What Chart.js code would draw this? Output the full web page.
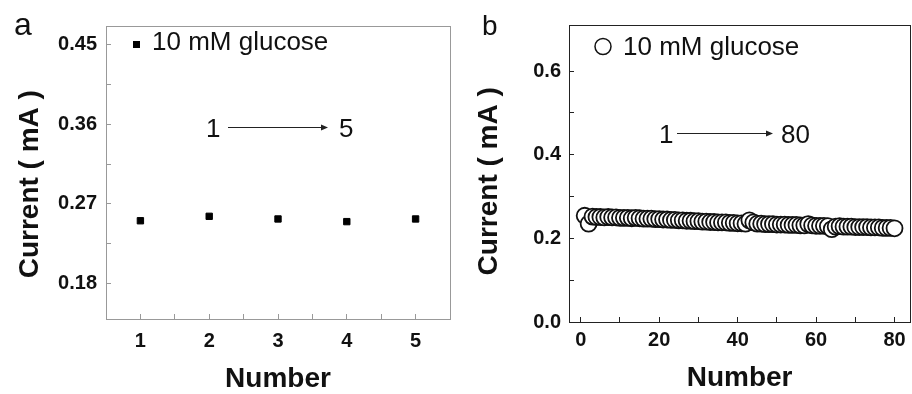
<!DOCTYPE html>
<html>
<head>
<meta charset="utf-8">
<script src="https://cdn.jsdelivr.net/npm/chart.js@4/dist/chart.umd.min.js"></script>
<style>
html, body { margin: 0; padding: 0; background: #fff; overflow: hidden; width: 912px; height: 394px; }
#chartA { position: absolute; left: 0; top: 0; }
#chartB { position: absolute; left: 460px; top: 0; }
</style>
</head>
<body>
<canvas id="chartA" width="460" height="394"></canvas>
<canvas id="chartB" width="460" height="394"></canvas>
<script>
// 面板a：5次测量
const numbersA = [1, 2, 3, 4, 5];
const currentA = [0.251, 0.256, 0.253, 0.250, 0.253];
const xMajorA = [1, 2, 3, 4, 5];
const xMinorA = [1.5, 2.5, 3.5, 4.5];
const yMajorA = [0.18, 0.27, 0.36, 0.45];
const yMinorA = [0.225, 0.315, 0.405];

// 面板b：80次测量
const numbersB = Array.from({ length: 80 }, (_, i) => i + 1);
const currentB = [
    0.254, 0.235, 0.252, 0.251, 0.251, 0.250, 0.251, 0.250, 0.250, 0.249,
    0.249, 0.249, 0.248, 0.249, 0.248, 0.247, 0.247, 0.247, 0.246, 0.246,
    0.245, 0.245, 0.244, 0.244, 0.243, 0.243, 0.242, 0.242, 0.241, 0.241,
    0.240, 0.240, 0.239, 0.239, 0.238, 0.238, 0.238, 0.237, 0.237, 0.236,
    0.236, 0.235, 0.243, 0.238, 0.235, 0.235, 0.234, 0.234, 0.234, 0.233,
    0.233, 0.233, 0.232, 0.232, 0.232, 0.231, 0.231, 0.234, 0.231, 0.230,
    0.230, 0.230, 0.229, 0.222, 0.228, 0.229, 0.228, 0.228, 0.228, 0.227,
    0.227, 0.227, 0.227, 0.226, 0.226, 0.226, 0.225, 0.225, 0.225, 0.224
];
const xMajorB = [0, 20, 40, 60, 80];
const xMinorB = [10, 30, 50, 70];
const yMajorB = [0, 0.2, 0.4, 0.6];
const yMinorB = [0.1, 0.3, 0.5];

const FONT = '"Liberation Sans", Arial, sans-serif';

function isMajor(list, v) {
    return list.some(m => Math.abs(m - v) < 1e-9);
}

function tickList(major, minor) {
    return major.concat(minor).sort((a, b) => a - b).map(v => ({ value: v }));
}

// 生成坐标轴配置
function makeAxis(opts) {
    return {
        type: 'linear',
        min: opts.min,
        max: opts.max,
        afterBuildTicks: s => { s.ticks = tickList(opts.major, opts.minor); },
        afterFit: s => {
            if (opts.width) s.width = opts.width;
            if (opts.height) s.height = opts.height;
        },
        grid: { drawOnChartArea: false, tickLength: -5, tickColor: opts.color, color: opts.color },
        border: { color: opts.color, width: 1 },
        ticks: {
            padding: opts.padding,
            color: '#111',
            autoSkip: false,
            maxRotation: 0,
            font: { family: FONT, size: 20, weight: 'bold' },
            callback: v => isMajor(opts.major, v) ? opts.fmt(v) : ''
        },
        title: {
            display: true,
            text: opts.title,
            color: '#111',
            font: { family: FONT, size: 28, weight: 'bold', lineHeight: opts.titleLH },
            padding: opts.titlePad
        }
    };
}

// 边框和注释
function annotPlugin(frameColor, drawExtra) {
    return {
        id: 'annot',
        afterDraw(chart) {
            const ctx = chart.ctx;
            const a = chart.chartArea;
            ctx.save();
            ctx.strokeStyle = frameColor;
            ctx.lineWidth = 1;
            ctx.strokeRect(Math.round(a.left) + 0.5, Math.round(a.top) + 0.5,
                Math.round(a.right - a.left), Math.round(a.bottom - a.top));
            drawExtra(ctx);
            ctx.restore();
        }
    };
}

function drawArrow(ctx, x1, x2, y) {
    ctx.strokeStyle = '#222';
    ctx.fillStyle = '#222';
    ctx.lineWidth = 1;
    ctx.beginPath();
    ctx.moveTo(x1, y + 0.5);
    ctx.lineTo(x2 - 5, y + 0.5);
    ctx.stroke();
    ctx.beginPath();
    ctx.moveTo(x2, y + 0.5);
    ctx.lineTo(x2 - 7, y - 2.5);
    ctx.lineTo(x2 - 7, y + 3.5);
    ctx.closePath();
    ctx.fill();
}

function text(ctx, s, x, y, size) {
    ctx.fillStyle = '#111';
    ctx.font = size + 'px ' + FONT;
    ctx.textAlign = 'left';
    ctx.textBaseline = 'alphabetic';
    ctx.fillText(s, x, y);
}

// 面板a
new Chart(document.getElementById('chartA'), {
    type: 'scatter',
    data: {
        datasets: [{
            label: '10 mM glucose',
            data: numbersA.map((n, i) => ({ x: n, y: currentA[i] })),
            pointStyle: 'rect',
            pointRadius: 4.5,
            pointBackgroundColor: '#000',
            pointBorderColor: '#000',
            pointBorderWidth: 1
        }]
    },
    options: {
        responsive: false,
        animation: false,
        layout: { padding: { top: 14, right: 10, left: 0, bottom: 0 } },
        plugins: { legend: { display: false }, tooltip: { enabled: false } },
        scales: {
            x: makeAxis({ min: 0.5, max: 5.5, major: xMajorA, minor: xMinorA, height: 75, padding: 15,
                color: '#999', fmt: v => String(v), title: 'Number', titleLH: 1, titlePad: { top: 0, bottom: 1 } }),
            y: makeAxis({ min: 0.14, max: 0.471, major: yMajorA, minor: yMinorA, width: 106, padding: 14,
                color: '#999', fmt: v => v.toFixed(2), title: 'Current ( mA )   ', titleLH: 1.2, titlePad: { top: 13, bottom: 0 } })
        }
    },
    plugins: [annotPlugin('#999', ctx => {
        text(ctx, 'a', 14, 35, 32);
        ctx.fillStyle = '#000';
        ctx.fillRect(133, 41, 7, 7);
        text(ctx, '10 mM glucose', 152, 50, 26);
        text(ctx, '1', 206, 137, 26);
        drawArrow(ctx, 228, 328, 127);
        text(ctx, '5', 339, 137, 26);
    })]
});

// 面板b
new Chart(document.getElementById('chartB'), {
    type: 'scatter',
    data: {
        datasets: [{
            label: '10 mM glucose',
            data: numbersB.map((n, i) => ({ x: n, y: currentB[i] })),
            pointStyle: 'circle',
            pointRadius: 8,
            pointBackgroundColor: '#fff',
            pointBorderColor: '#111',
            pointBorderWidth: 1.8
        }]
    },
    options: {
        responsive: false,
        animation: false,
        layout: { padding: { top: 15, right: 4, left: 0, bottom: 0 } },
        plugins: { legend: { display: false }, tooltip: { enabled: false } },
        scales: {
            x: makeAxis({ min: -3, max: 84, major: xMajorB, minor: xMinorB, height: 72, padding: 11,
                color: '#222', fmt: v => String(v), title: 'Number', titleLH: 1, titlePad: { top: 0, bottom: 2 } }),
            y: makeAxis({ min: 0, max: 0.71, major: yMajorB, minor: yMinorB, width: 109, padding: 13,
                color: '#222', fmt: v => v.toFixed(1), title: 'Current ( mA )  ', titleLH: 1.2, titlePad: { top: 12, bottom: 0 } })
        }
    },
    plugins: [annotPlugin('#222', ctx => {
        text(ctx, 'b', 22, 35, 28);
        ctx.strokeStyle = '#111';
        ctx.lineWidth = 1.5;
        ctx.beginPath();
        ctx.arc(143, 46.5, 8, 0, Math.PI * 2);
        ctx.stroke();
        text(ctx, '10 mM glucose', 163, 55, 26);
        text(ctx, '1', 199, 143, 26);
        drawArrow(ctx, 217, 313, 133);
        text(ctx, '80', 321, 143, 26);
    })]
});
</script>
</body>
</html>
